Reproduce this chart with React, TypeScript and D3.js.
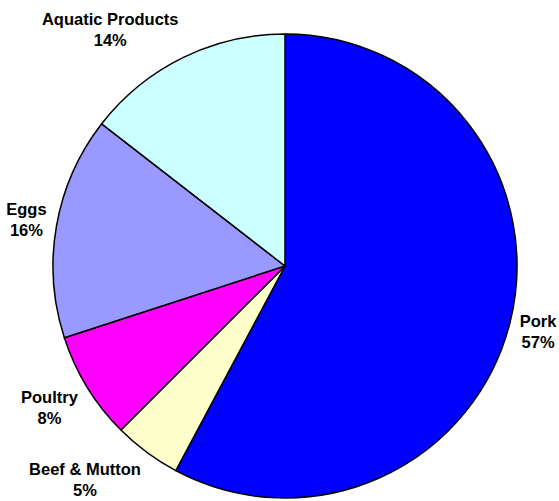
import React, { useEffect, useRef } from "react";
import * as d3 from "d3";

const categories = ["Pork", "Beef & Mutton", "Poultry", "Eggs", "Aquatic Products"];
const values = [57.8, 4.7, 7.5, 15.5, 14.5];
const percentLabels = ["57%", "5%", "8%", "16%", "14%"];
const colors = ["#0000FF", "#FFFFCC", "#FF00FF", "#9999FF", "#CCFFFF"];

const W = 559;
const H = 501;

export default function App() {
  const ref = useRef<SVGSVGElement | null>(null);

  useEffect(() => {
    const svg = d3.select(ref.current);
    svg.selectAll("*").remove();
    const cx = 285;
    const cy = 266;
    const r = 232;

    const data = categories.map((c, i) => ({ c, v: values[i], p: percentLabels[i], col: colors[i] }));
    const pie = d3.pie<any>().sort(null).value((d: any) => d.v);
    const arcs = pie(data);
    const arc = d3.arc<any>().innerRadius(0).outerRadius(r);

    const g = svg.append("g").attr("transform", `translate(${cx},${cy})`);
    g.selectAll("path")
      .data(arcs)
      .enter()
      .append("path")
      .attr("d", arc as any)
      .attr("fill", (d: any) => d.data.col)
      .attr("stroke", "#000")
      .attr("stroke-width", 1.5)
      .attr("stroke-linejoin", "round");

    const R = r + 10;
    const kx = 2.5;
    const ky = 1.5;
    const clamp = (t: number) => Math.max(-1, Math.min(1, t));
    arcs.forEach((a: any) => {
      const mid = (a.startAngle + a.endAngle) / 2;
      const s = Math.sin(mid);
      const c = Math.cos(mid);
      const px = cx + R * s;
      const py = cy - R * c;
      const t = svg
        .append("text")
        .attr("text-anchor", "middle")
        .attr("font-family", "'Liberation Sans', Arial, sans-serif")
        .attr("font-weight", "bold")
        .attr("font-size", 16.5)
        .attr("fill", "#000");
      t.append("tspan").attr("x", 0).attr("y", 0).text(a.data.c);
      t.append("tspan").attr("x", 0).attr("y", 21).text(a.data.p);
      const bb = (t.node() as SVGTextElement).getBBox();
      const w = bb.width;
      const h = bb.height;
      const ccx = px + (w / 2) * clamp(s * kx);
      const ccy = py + (h / 2) * clamp(-c * ky);
      const bcx = bb.x + w / 2;
      const bcy = bb.y + h / 2;
      t.attr("transform", `translate(${ccx - bcx},${ccy - bcy})`);
    });
  }, []);

  return (
    <svg
      ref={ref}
      width={W}
      height={H}
      style={{ position: "absolute", left: 0, top: 0, background: "#fff" }}
    />
  );
}
